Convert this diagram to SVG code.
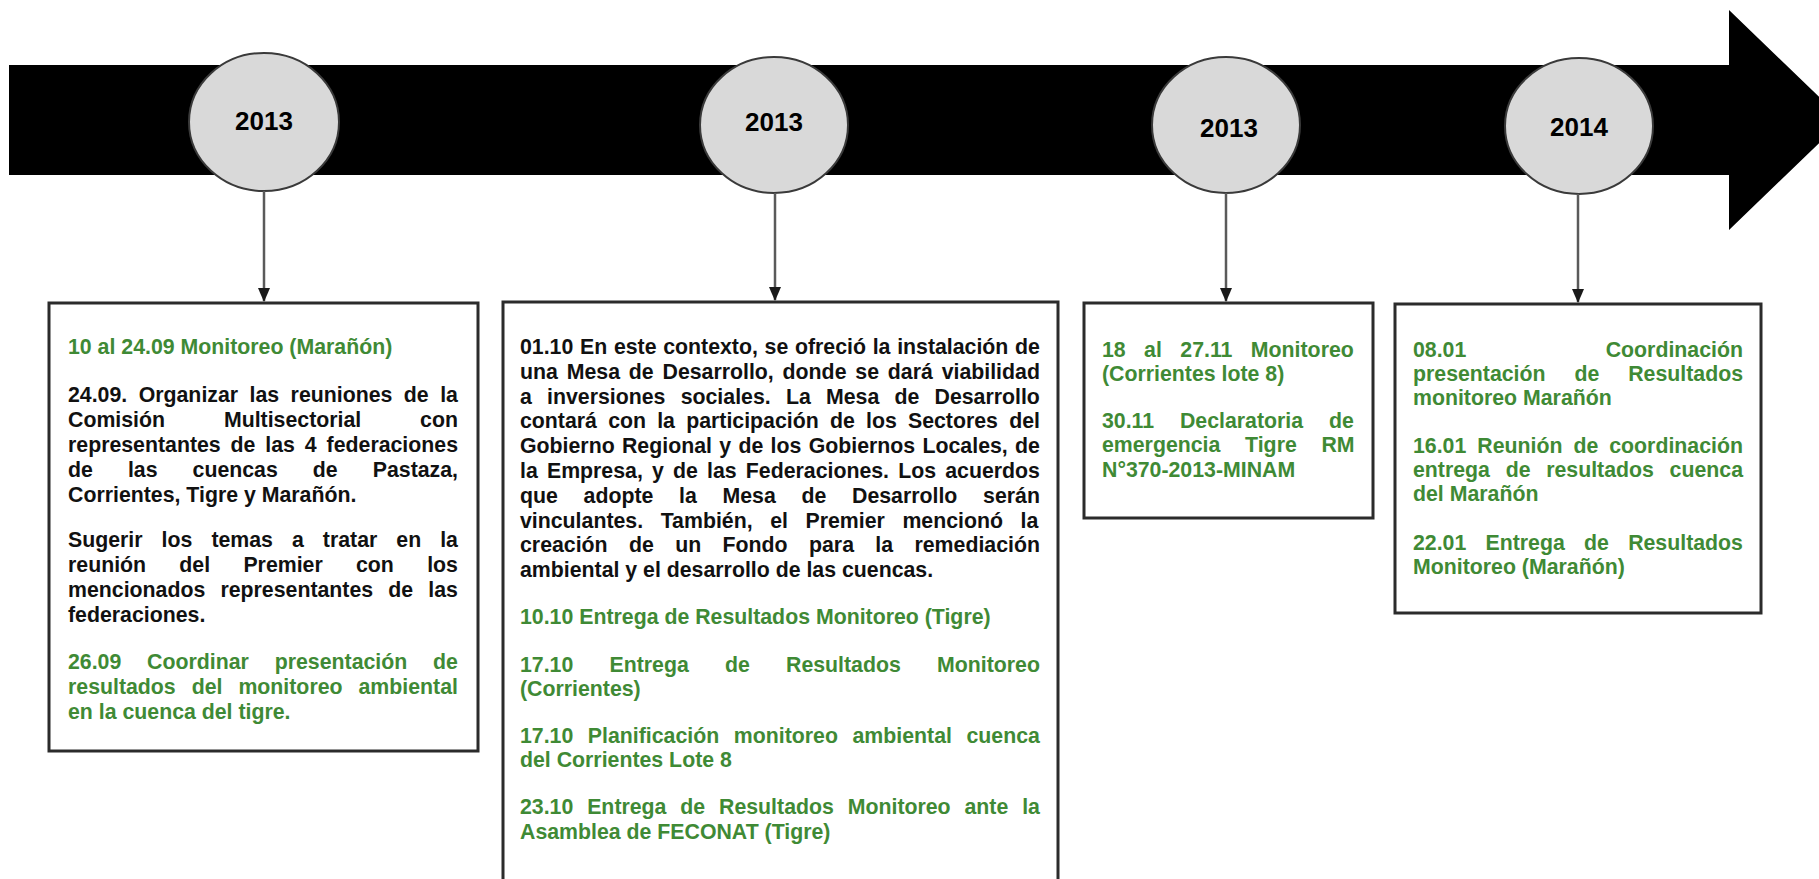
<svg xmlns="http://www.w3.org/2000/svg" width="1819" height="879" viewBox="0 0 1819 879">
<style>
.t{font-family:"Liberation Sans",Arial,sans-serif;font-weight:bold;font-size:21.3px}
.k{fill:#111}
.g{fill:#3f8a35}
.yr{font-family:"Liberation Sans",Arial,sans-serif;font-weight:bold;font-size:26px;fill:#000;text-anchor:middle}
.ell{fill:#d9d9d9;stroke:#3a3a3a;stroke-width:2}
.box{fill:#fff;stroke:#2b2b2b;stroke-width:3}
.con{stroke:#5a5a5a;stroke-width:2.5;fill:none;marker-end:url(#ah)}
</style>
<defs>
<marker id="ah" markerUnits="userSpaceOnUse" markerWidth="14" markerHeight="12" refX="13" refY="6" orient="auto">
<path d="M0,0 L14,6 L0,12 z" fill="#1a1a1a"/>
</marker>
</defs>
<rect width="1819" height="879" fill="#fff"/>
<g id="timeline">
<polygon points="9,65 1729,65 1729,10 1843,120 1729,230 1729,175 9,175" fill="#000"/>
</g>
<g id="year1"><ellipse class="ell" cx="264" cy="122" rx="75" ry="69"/><text class="yr" x="264" y="130">2013</text></g>
<g id="year2"><ellipse class="ell" cx="774" cy="125" rx="74" ry="68"/><text class="yr" x="774" y="131">2013</text></g>
<g id="year3"><ellipse class="ell" cx="1226" cy="125" rx="74" ry="68"/><text class="yr" x="1229" y="137">2013</text></g>
<g id="year4"><ellipse class="ell" cx="1579" cy="126" rx="74" ry="68"/><text class="yr" x="1579" y="136">2014</text></g>

<g id="box1">
<rect class="box" x="49" y="303" width="429" height="448"/>
<text class="t g" x="68" y="354">10 al 24.09 Monitoreo (Marañón)</text>
<text class="t k" x="68" y="402" style="word-spacing:5.54px">24.09. Organizar las reuniones de la</text>
<text class="t k" x="68" y="427" style="word-spacing:52.98px">Comisión Multisectorial con</text>
<text class="t k" x="68" y="452" style="word-spacing:3.98px">representantes de las 4 federaciones</text>
<text class="t k" x="68" y="477" style="word-spacing:29.13px">de las cuencas de Pastaza,</text>
<text class="t k" x="68" y="502">Corrientes, Tigre y Marañón.</text>
<text class="t k" x="68" y="547" style="word-spacing:13.11px">Sugerir los temas a tratar en la</text>
<text class="t k" x="68" y="572" style="word-spacing:27.36px">reunión del Premier con los</text>
<text class="t k" x="68" y="597" style="word-spacing:9.25px">mencionados representantes de las</text>
<text class="t k" x="68" y="622">federaciones.</text>
<text class="t g" x="68" y="669" style="word-spacing:19.91px">26.09 Coordinar presentación de</text>
<text class="t g" x="68" y="694" style="word-spacing:10.05px">resultados del monitoreo ambiental</text>
<text class="t g" x="68" y="719">en la cuenca del tigre.</text>
</g>

<g id="box2">
<rect class="box" x="503" y="302" width="555" height="600"/>
<text class="t k" x="520" y="354" style="word-spacing:0.78px">01.10 En este contexto, se ofreció la instalación de</text>
<text class="t k" x="520" y="378.8" style="word-spacing:2.92px">una Mesa de Desarrollo, donde se dará viabilidad</text>
<text class="t k" x="520" y="403.6" style="word-spacing:9.31px">a inversiones sociales. La Mesa de Desarrollo</text>
<text class="t k" x="520" y="428.4" style="word-spacing:5.29px">contará con la participación de los Sectores del</text>
<text class="t k" x="520" y="453.2" style="word-spacing:1.41px">Gobierno Regional y de los Gobiernos Locales, de</text>
<text class="t k" x="520" y="478" style="word-spacing:3.25px">la Empresa, y de las Federaciones. Los acuerdos</text>
<text class="t k" x="520" y="502.8" style="word-spacing:19.78px">que adopte la Mesa de Desarrollo serán</text>
<text class="t k" x="520" y="527.6" style="word-spacing:11.66px">vinculantes. También, el Premier mencionó la</text>
<text class="t k" x="520" y="552.4" style="word-spacing:15.45px">creación de un Fondo para la remediación</text>
<text class="t k" x="520" y="577.2">ambiental y el desarrollo de las cuencas.</text>
<text class="t g" x="520" y="624">10.10 Entrega de Resultados Monitoreo (Tigre)</text>
<text class="t g" x="520" y="672" style="word-spacing:30.28px">17.10 Entrega de Resultados Monitoreo</text>
<text class="t g" x="520" y="696">(Corrientes)</text>
<text class="t g" x="520" y="743" style="word-spacing:8.66px">17.10 Planificación monitoreo ambiental cuenca</text>
<text class="t g" x="520" y="767">del Corrientes Lote 8</text>
<text class="t g" x="520" y="814" style="word-spacing:7.95px">23.10 Entrega de Resultados Monitoreo ante la</text>
<text class="t g" x="520" y="839">Asamblea de FECONAT (Tigre)</text>
</g>

<g id="box3">
<rect class="box" x="1084" y="303" width="289" height="215"/>
<text class="t g" x="1102" y="357" style="word-spacing:12.51px">18 al 27.11 Monitoreo</text>
<text class="t g" x="1102" y="381">(Corrientes lote 8)</text>
<text class="t g" x="1102" y="428" style="word-spacing:19.94px">30.11 Declaratoria de</text>
<text class="t g" x="1102" y="452" style="word-spacing:18.78px">emergencia Tigre RM</text>
<text class="t g" x="1102" y="477">N°370-2013-MINAM</text>
</g>

<g id="box4">
<rect class="box" x="1395" y="304" width="366" height="309"/>
<text class="t g" x="1413" y="357" style="word-spacing:133.5px">08.01 Coordinación</text>
<text class="t g" x="1413" y="381" style="word-spacing:22.98px">presentación de Resultados</text>
<text class="t g" x="1413" y="405">monitoreo Marañón</text>
<text class="t g" x="1413" y="453" style="word-spacing:5.05px">16.01 Reunión de coordinación</text>
<text class="t g" x="1413" y="477" style="word-spacing:9.78px">entrega de resultados cuenca</text>
<text class="t g" x="1413" y="501">del Marañón</text>
<text class="t g" x="1413" y="550" style="word-spacing:13.32px">22.01 Entrega de Resultados</text>
<text class="t g" x="1413" y="574">Monitoreo (Marañón)</text>
</g>

<g id="connectors">
<line class="con" x1="264" y1="191" x2="264" y2="301"/>
<line class="con" x1="775" y1="193" x2="775" y2="300"/>
<line class="con" x1="1226" y1="193" x2="1226" y2="301"/>
<line class="con" x1="1578" y1="194" x2="1578" y2="302"/>
</g>
</svg>
